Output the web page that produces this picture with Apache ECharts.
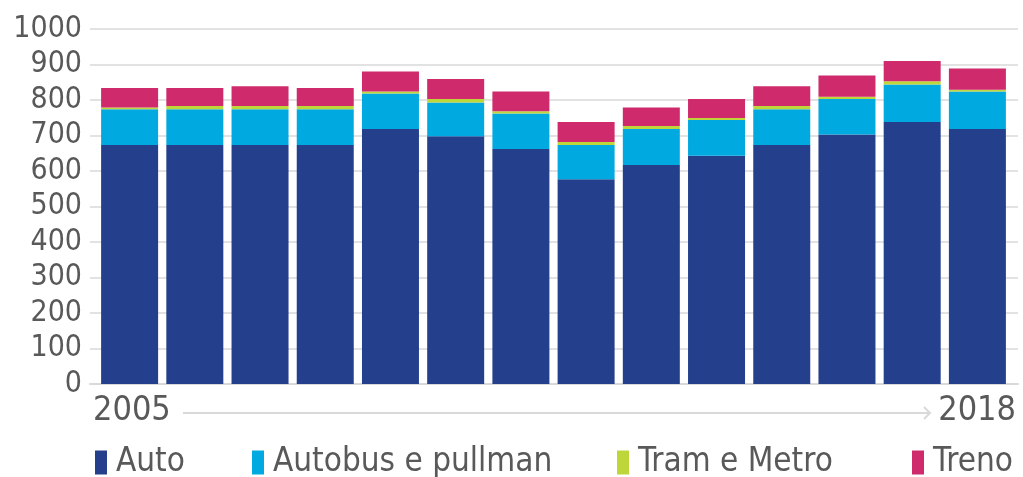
<!DOCTYPE html>
<html>
<head>
<meta charset="utf-8">
<script src="https://cdn.jsdelivr.net/npm/echarts@6/dist/echarts.min.js"></script>
<style>
  html, body { margin: 0; padding: 0; background: #fff; }
  #main { width: 1023px; height: 477px; }
</style>
</head>
<body>
<div id="main"></div>
<script>
// anni 2005-2018
var anni = ['2005', '2006', '2007', '2008', '2009', '2010', '2011', '2012', '2013', '2014', '2015', '2016', '2017', '2018'];
var auto = [673, 673, 673, 673, 718, 698, 662, 577, 617, 643, 673, 703, 738, 718];
var autobus = [101, 101, 101, 101, 100, 95, 100, 96, 101, 101, 101, 100, 106, 106];
var tram = [5, 9, 9, 9, 6, 10, 6, 9, 9, 5, 9, 6, 9, 5];
var treno = [55, 51, 56, 51, 56, 56, 56, 56, 52, 54, 56, 60, 57, 60];
var nomi = ['Auto', 'Autobus e pullman', 'Tram e Metro', 'Treno'];
var yTicks = [0, 1000, 100];

var font = '"DejaVu Sans Condensed", "Liberation Sans Narrow", sans-serif';
var grigio = '#595959';
var linee = '#d9d9d9';

var myChart = echarts.init(document.getElementById('main'));

function serie(nome, dati, colore) {
    return {
        name: nome,
        type: 'bar',
        stack: 'tot',
        xAxisIndex: 1,
        yAxisIndex: 1,
        barCategoryGap: '12.6%',
        itemStyle: { color: colore },
        data: dati
    };
}

// una legenda per voce, per rispettare le posizioni dell'originale
var legendLeft = [95, 252, 617, 912];
var legende = nomi.map(function (n, i) {
    return {
        left: legendLeft[i],
        top: 446,
        padding: 0,
        icon: 'rect',
        itemWidth: 12,
        itemHeight: 24,
        textStyle: { color: grigio, fontSize: 33, fontFamily: font, padding: [0, 0, 0, 4] },
        data: [n]
    };
});

var option = {
    animation: false,
    // grid 0: griglia e assi, grid 1: barre (un po' rientrate come in Excel)
    grid: [
        { left: 90, right: 5, top: 29, bottom: 93 },
        { left: 97, right: 13, top: 29, bottom: 93 }
    ],
    xAxis: [
        {
            gridIndex: 0,
            type: 'category',
            data: anni,
            axisLine: { lineStyle: { color: linee, width: 2 } },
            axisTick: { show: false },
            axisLabel: { show: false }
        },
        {
            gridIndex: 1,
            type: 'category',
            data: anni,
            show: false
        }
    ],
    yAxis: [
        {
            gridIndex: 0,
            type: 'value',
            min: yTicks[0],
            max: yTicks[1],
            interval: yTicks[2],
            axisLine: { show: false },
            axisTick: { show: false },
            axisLabel: {
                color: grigio, fontSize: 30, fontFamily: font, margin: 8,
                formatter: function (v) { return String(v); }
            },
            splitLine: { lineStyle: { color: linee, width: 1.5 } }
        },
        {
            gridIndex: 1,
            type: 'value',
            min: yTicks[0],
            max: yTicks[1],
            interval: yTicks[2],
            show: false
        }
    ],
    legend: legende,
    graphic: [
        {
            type: 'text',
            left: 93,
            top: 394,
            style: { text: anni[0], fill: grigio, font: '34px ' + font }
        },
        {
            type: 'text',
            right: 7,
            top: 394,
            style: { text: anni[anni.length - 1], fill: grigio, font: '34px ' + font }
        },
        {
            type: 'polyline',
            shape: { points: [[183, 413], [930, 413]] },
            style: { stroke: linee, lineWidth: 2 }
        },
        {
            type: 'polyline',
            shape: { points: [[924, 407], [930, 413], [924, 419]] },
            style: { stroke: linee, lineWidth: 2, fill: null }
        }
    ],
    series: [
        serie(nomi[0], auto, '#243f8b'),
        serie(nomi[1], autobus, '#00aae1'),
        serie(nomi[2], tram, '#bfd63a'),
        serie(nomi[3], treno, '#ce2a6c')
    ]
};
myChart.setOption(option);
</script>
</body>
</html>
